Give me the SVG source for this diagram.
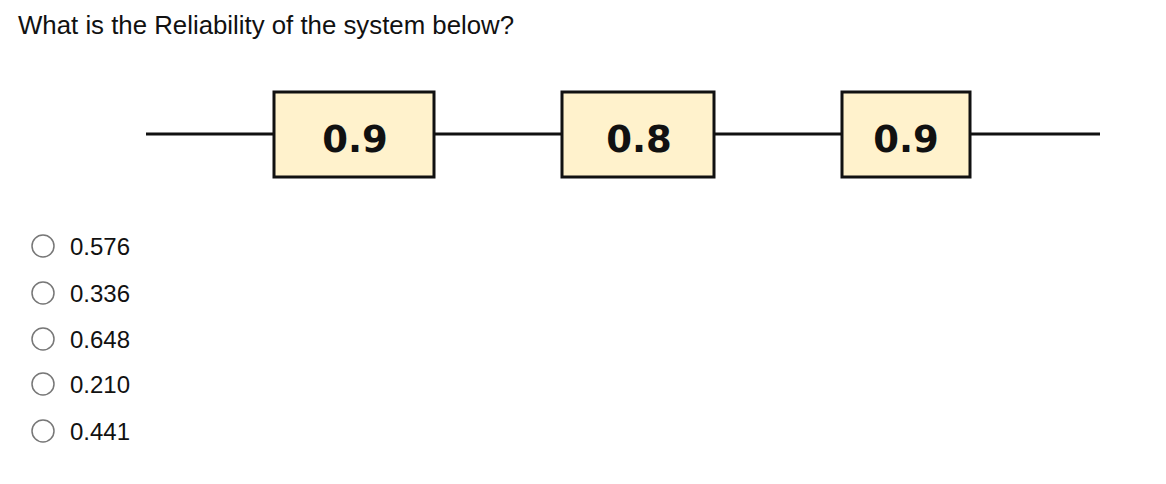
<svg xmlns="http://www.w3.org/2000/svg" width="1166" height="484" viewBox="0 0 1166 484">
<style>
.t{font-family:"Liberation Sans",Arial,sans-serif;fill:#111}
.b{fill:#fff2cc;stroke:#111;stroke-width:3}
.bl{font-family:"DejaVu Sans",Verdana,sans-serif;font-weight:bold;font-size:37px;fill:#111;text-anchor:middle}
.r{fill:#fff;stroke:#777;stroke-width:1.5}
.c{stroke:#111;stroke-width:3;fill:none}
.o{font-size:24px}
</style>
<rect width="1166" height="484" fill="#fff"/>
<text class="t" x="18" y="34" font-size="25.8">What is the Reliability of the system below?</text>
<g id="connectors">
<line class="c" x1="146" y1="134" x2="274" y2="134"/>
<line class="c" x1="434" y1="134" x2="562" y2="134"/>
<line class="c" x1="714" y1="134" x2="842" y2="134"/>
<line class="c" x1="970" y1="134" x2="1100" y2="134"/>
</g>
<g id="n1"><rect class="b" x="274" y="92" width="160" height="85"/><text class="bl" x="355" y="152">0.9</text></g>
<g id="n2"><rect class="b" x="562" y="92" width="152" height="85"/><text class="bl" x="639" y="152">0.8</text></g>
<g id="n3"><rect class="b" x="842" y="92" width="128" height="85"/><text class="bl" x="906" y="152">0.9</text></g>
<g id="options">
<circle class="r" cx="43" cy="246" r="11"/><text class="t o" x="70" y="255">0.576</text>
<circle class="r" cx="43" cy="293" r="11"/><text class="t o" x="70" y="302">0.336</text>
<circle class="r" cx="43" cy="339" r="11"/><text class="t o" x="70" y="348">0.648</text>
<circle class="r" cx="43" cy="384" r="11"/><text class="t o" x="70" y="393">0.210</text>
<circle class="r" cx="43" cy="431" r="11"/><text class="t o" x="70" y="440">0.441</text>
</g>
</svg>
